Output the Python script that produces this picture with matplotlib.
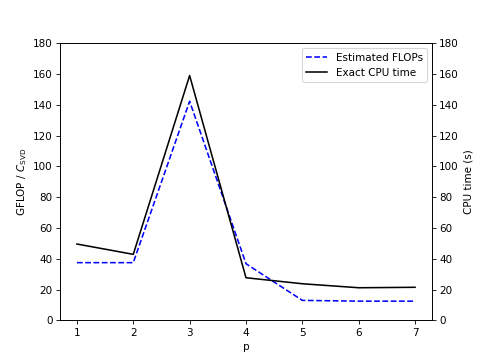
import numpy as np
from matplotlib import pyplot as plt

p = [1, 2, 3, 4, 5, 6, 7]
flops = [37.5, 37.5, 142.3, 36.8, 13.0, 12.5, 12.5]
cpu_time = [49.6, 42.9, 159.0, 27.7, 23.8, 21.2, 21.5]

fig, ax = plt.subplots(figsize=(6.4, 4.8), dpi=75)
l1, = ax.plot(p, flops, "b--", label="Estimated FLOPs")
ax.set_ylim(0, 180)
ax.set_xlabel("p")
ax.set_ylabel(r"GFLOP / $C_{\mathrm{SVD}}$")

ax2 = ax.twinx()
l2, = ax2.plot(p, cpu_time, "k-", label="Exact CPU time")
ax2.set_ylim(0, 180)
ax2.set_ylabel("CPU time (s)")

ax.legend(handles=[l1, l2], loc="upper right")
fig.savefig("out.png", dpi=75)
